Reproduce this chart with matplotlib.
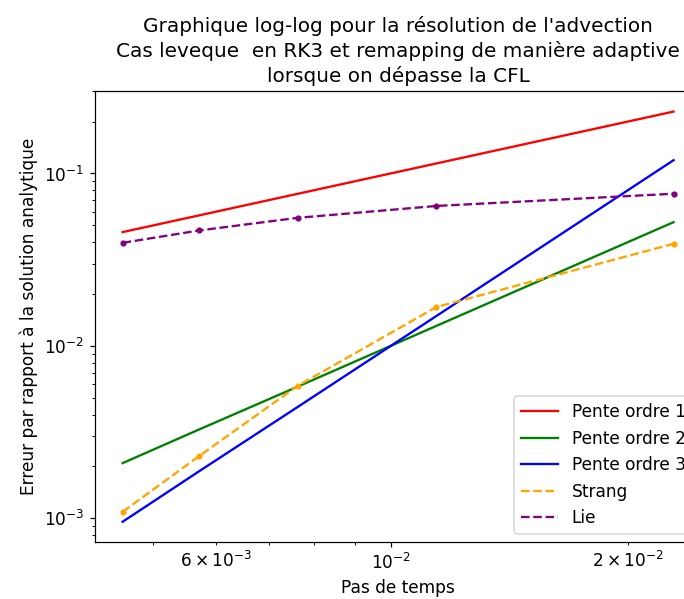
import numpy as np
import matplotlib
matplotlib.use("Agg")
import matplotlib.pyplot as plt

# pas de temps
dt = [0.00457, 0.00571, 0.00762, 0.01143, 0.02286]

# droites de référence
pente1 = [0.0457, 0.0571, 0.0762, 0.1143, 0.2286]
pente2 = [0.00209, 0.00327, 0.00580, 0.01306, 0.0522]
pente3 = [0.000955, 0.00187, 0.00442, 0.0149, 0.1194]

# erreurs mesurées
err_strang = [0.00109, 0.00229, 0.00586, 0.0168, 0.0391]
err_lie = [0.0396, 0.0467, 0.0553, 0.0648, 0.0763]

plt.rcParams['font.size'] = 11

fig = plt.figure(figsize=(684 / 111, 599 / 111), dpi=111)
ax = fig.add_axes([0.139, 0.0947, 0.886, 0.7533])

ax.loglog(dt, pente1, '-', color='red', label='Pente ordre 1')
ax.loglog(dt, pente2, '-', color='green', label='Pente ordre 2')
ax.loglog(dt, pente3, '-', color='blue', label='Pente ordre 3')
ax.loglog(dt, err_strang, '--', color='orange', label='Strang')
ax.loglog(dt, err_lie, '--', color='purple', label='Lie')
# points de mesure
ax.loglog(dt, err_strang, '.', color='orange')
ax.loglog(dt, err_lie, '.', color='purple')

ax.set_xlabel("Pas de temps")
ax.set_ylabel("Erreur par rapport à la solution analytique")
ax.set_title("Graphique log-log pour la résolution de l'advection\n"
             "Cas leveque  en RK3 et remapping de manière adaptive\n"
             "lorsque on dépasse la CFL", fontsize=13, linespacing=1.3)
ax.legend(loc='lower right', handlelength=2.2)

fig.savefig("out.png", dpi=111)
